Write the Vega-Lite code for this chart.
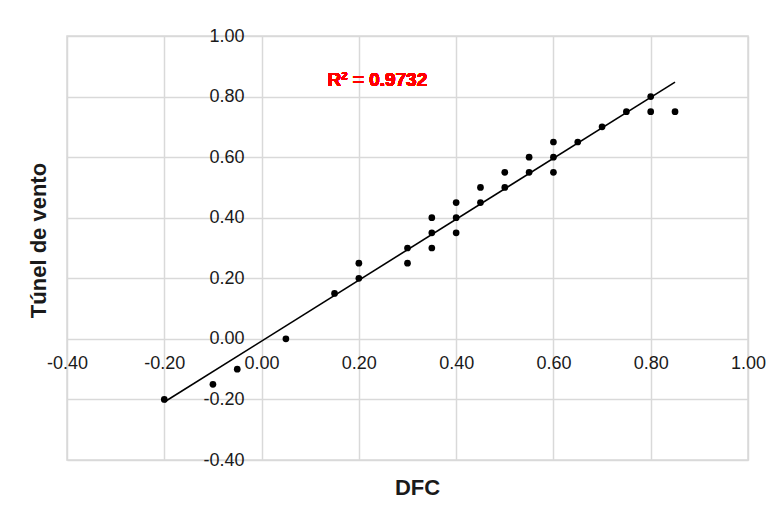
{
  "$schema": "https://vega.github.io/schema/vega-lite/v6.json",
  "width": 681,
  "height": 424,
  "autosize": "none",
  "padding": {"left": 67, "top": 36, "right": 29, "bottom": 52},
  "background": "white",
  "config": {
    "view": {"stroke": "#d9d9d9", "strokeWidth": 1.5},
    "font": "Liberation Sans",
    "axis": {
      "grid": true,
      "gridColor": "#d9d9d9",
      "gridWidth": 1.5,
      "domain": false,
      "ticks": false,
      "tickSize": 0,
      "labelFont": "Liberation Sans",
      "labelFontSize": 18,
      "labelColor": "#1a1a1a",
      "labelFlush": false,
      "labelOverlap": false,
      "titleFont": "Liberation Sans",
      "titleFontSize": 22,
      "titleFontWeight": "bold",
      "titleColor": "#1a1a1a"
    }
  },
  "data": {
    "values": [
      {"DFC": -0.2, "Tunel": -0.2},
      {"DFC": -0.1, "Tunel": -0.15},
      {"DFC": -0.05, "Tunel": -0.1},
      {"DFC": 0.05, "Tunel": 0.0},
      {"DFC": 0.15, "Tunel": 0.15},
      {"DFC": 0.2, "Tunel": 0.2},
      {"DFC": 0.2, "Tunel": 0.25},
      {"DFC": 0.3, "Tunel": 0.25},
      {"DFC": 0.3, "Tunel": 0.3},
      {"DFC": 0.35, "Tunel": 0.3},
      {"DFC": 0.35, "Tunel": 0.35},
      {"DFC": 0.35, "Tunel": 0.4},
      {"DFC": 0.4, "Tunel": 0.35},
      {"DFC": 0.4, "Tunel": 0.4},
      {"DFC": 0.4, "Tunel": 0.45},
      {"DFC": 0.45, "Tunel": 0.45},
      {"DFC": 0.45, "Tunel": 0.5},
      {"DFC": 0.5, "Tunel": 0.5},
      {"DFC": 0.5, "Tunel": 0.55},
      {"DFC": 0.55, "Tunel": 0.55},
      {"DFC": 0.55, "Tunel": 0.6},
      {"DFC": 0.6, "Tunel": 0.55},
      {"DFC": 0.6, "Tunel": 0.6},
      {"DFC": 0.6, "Tunel": 0.65},
      {"DFC": 0.65, "Tunel": 0.65},
      {"DFC": 0.7, "Tunel": 0.7},
      {"DFC": 0.75, "Tunel": 0.75},
      {"DFC": 0.8, "Tunel": 0.8},
      {"DFC": 0.8, "Tunel": 0.75},
      {"DFC": 0.85, "Tunel": 0.75}
    ]
  },
  "encoding": {
    "x": {
      "field": "DFC",
      "type": "quantitative",
      "scale": {"domain": [-0.4, 1.0], "nice": false, "zero": false},
      "axis": {
        "title": "DFC",
        "values": [-0.4, -0.2, 0, 0.2, 0.4, 0.6, 0.8, 1.0],
        "format": ".2f",
        "labelExpr": "replace(datum.label, '−', '-')",
        "offset": -121,
        "labelPadding": 15,
        "titleX": 350,
        "titleY": 148,
        "titleBaseline": "middle",
        "titleAlign": "center"
      }
    },
    "y": {
      "field": "Tunel",
      "type": "quantitative",
      "scale": {"domain": [-0.4, 1.0], "nice": false, "zero": false},
      "axis": {
        "title": "Túnel de vento",
        "values": [-0.4, -0.2, 0, 0.2, 0.4, 0.6, 0.8, 1.0],
        "format": ".2f",
        "labelExpr": "replace(datum.label, '−', '-')",
        "offset": -194,
        "labelPadding": 17,
        "titleX": -223,
        "titleY": 204,
        "titleAngle": -90,
        "titleBaseline": "middle",
        "titleAlign": "center"
      }
    }
  },
  "layer": [
    {
      "transform": [{"regression": "Tunel", "on": "DFC"}],
      "mark": {"type": "line", "color": "black", "strokeWidth": 1.6}
    },
    {
      "mark": {"type": "circle", "color": "black", "opacity": 1, "size": 45}
    },
    {
      "mark": {"type": "text", "text": "R² = 0.9732", "color": "red", "fontSize": 19, "fontWeight": "bold", "font": "Liberation Sans", "align": "center", "baseline": "middle"},
      "encoding": {
        "x": {"datum": 0.238, "type": "quantitative"},
        "y": {"datum": 0.855, "type": "quantitative"}
      }
    }
  ]
}
